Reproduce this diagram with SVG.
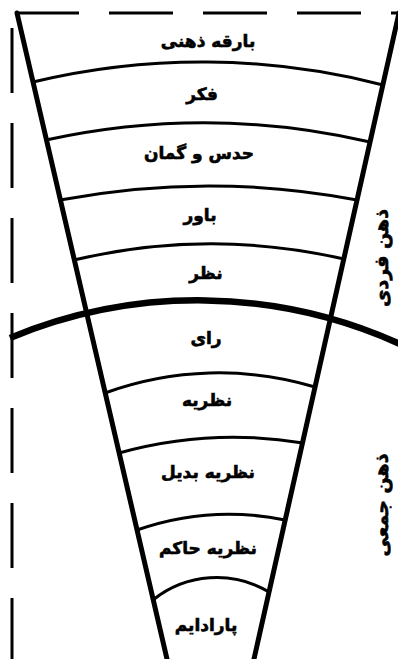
<svg xmlns="http://www.w3.org/2000/svg" width="398" height="659" viewBox="0 0 398 659">
<style>
.frame{stroke:#000;stroke-width:3;fill:none;stroke-dasharray:64 30}
.cone{stroke:#000;stroke-width:5;fill:none;stroke-linecap:round}
.arc{stroke:#000;stroke-width:3;fill:none}
.thick{stroke:#000;stroke-width:6.5;fill:none}
.lbl{font-family:"DejaVu Sans",sans-serif;font-weight:bold;font-size:17px;fill:#000;stroke:#000;stroke-width:0.6;text-anchor:middle}
.side{font-family:"DejaVu Sans",sans-serif;font-weight:bold;font-size:19px;fill:#000;stroke:#000;stroke-width:0.6;text-anchor:middle}
</style>
<rect width="398" height="659" fill="#fff"/>
<g id="frame">
<path class="frame" d="M15,13 H398"/>
<path class="frame" d="M12,28 V659" style="stroke-dasharray:65 30"/>
</g>
<g id="connectors">
<path class="cone" d="M17,13 L167,659"/>
<path class="cone" d="M399,13 L254,659"/>
<path class="arc" d="M33,82 A723,723 0 0 1 383,85"/>
<path class="arc" d="M46,140 A738,738 0 0 1 370,142"/>
<path class="arc" d="M60,200 A795,795 0 0 1 357,200"/>
<path class="arc" d="M74,260 A596,596 0 0 1 344,259"/>
<path class="thick" d="M10,338 A489,489 0 0 1 400,344"/>
<path class="arc" d="M105,393 A333,333 0 0 1 315,387"/>
<path class="arc" d="M119,453 A428,428 0 0 1 303,443"/>
<path class="arc" d="M137,530 A279,279 0 0 1 285,520"/>
<path class="arc" d="M153,600 A102,102 0 0 1 269,592"/>
</g>
<g id="n1"><text class="lbl" x="208" y="47">بارقه ذهنی</text></g>
<g id="n2"><text class="lbl" x="202" y="100">فکر</text></g>
<g id="n3"><text class="lbl" x="199" y="159">حدس و گمان</text></g>
<g id="n4"><text class="lbl" x="200" y="221">باور</text></g>
<g id="n5"><text class="lbl" x="206" y="279">نظر</text></g>
<g id="n6"><text class="lbl" x="206" y="344" style="letter-spacing:5px">رای</text></g>
<g id="n7"><text class="lbl" x="207" y="406">نظریه</text></g>
<g id="n8"><text class="lbl" x="208" y="478">نظریه بدیل</text></g>
<g id="n9"><text class="lbl" x="208" y="554">نظریه حاکم</text></g>
<g id="n10"><text class="lbl" x="206" y="631">پارادایم</text></g>
<g id="side1"><text class="side" transform="translate(381,258) rotate(-90)" y="7">ذهن فردی</text></g>
<g id="side2"><text class="side" transform="translate(381,505) rotate(-90)" y="7">ذهن جمعی</text></g>
</svg>
